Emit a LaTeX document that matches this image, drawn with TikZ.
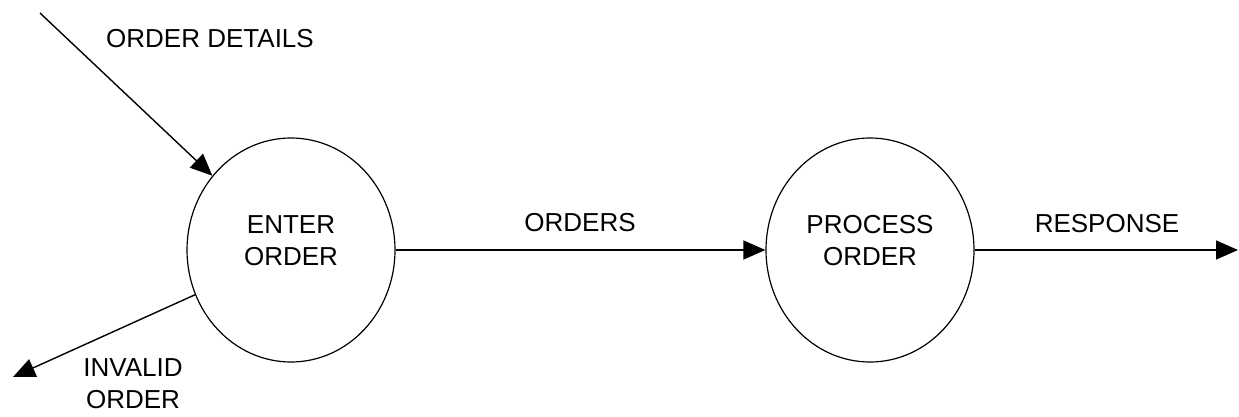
\documentclass[tikz,border=0pt]{standalone}
\usepackage{fontspec}
\setmainfont{Liberation Sans}
\usetikzlibrary{shapes.geometric,arrows.meta}
\begin{document}
\begin{tikzpicture}[x=1pt,y=1pt,
  proc/.style={ellipse,draw,line width=1.2pt,minimum width=208pt,minimum height=224pt,inner sep=0pt},
  txt/.style={font=\fontsize{26}{32}\selectfont,align=center,inner sep=0pt},
  flow/.style={draw,line width=1.4pt,-{Triangle[length=22pt,width=19pt]}}]
\useasboundingbox (0,0) rectangle (1239,416);
\node[proc] (enter) at (291,166) {};
\node[proc] (process) at (870,166) {};
\node[txt] (entertxt) at (291,175) {ENTER\\ORDER};
\node[txt] (processtxt) at (870,175) {PROCESS\\ORDER};
\coordinate (odstart) at (40,403);
\coordinate (invend) at (13,39);
\coordinate (respend) at (1238,166);
\draw[flow] (odstart) -- (enter);
\draw[flow] (enter.205) -- (invend);
\draw[flow] (enter) -- (process);
\draw[flow] (process) -- (respend);
\node[txt] (odlbl) at (210,377) {ORDER DETAILS};
\node[txt] (invlbl) at (133,32) {INVALID\\ORDER};
\node[txt] (ordlbl) at (580,193) {ORDERS};
\node[txt] (resplbl) at (1107,192) {RESPONSE};
\end{tikzpicture}
\end{document}
